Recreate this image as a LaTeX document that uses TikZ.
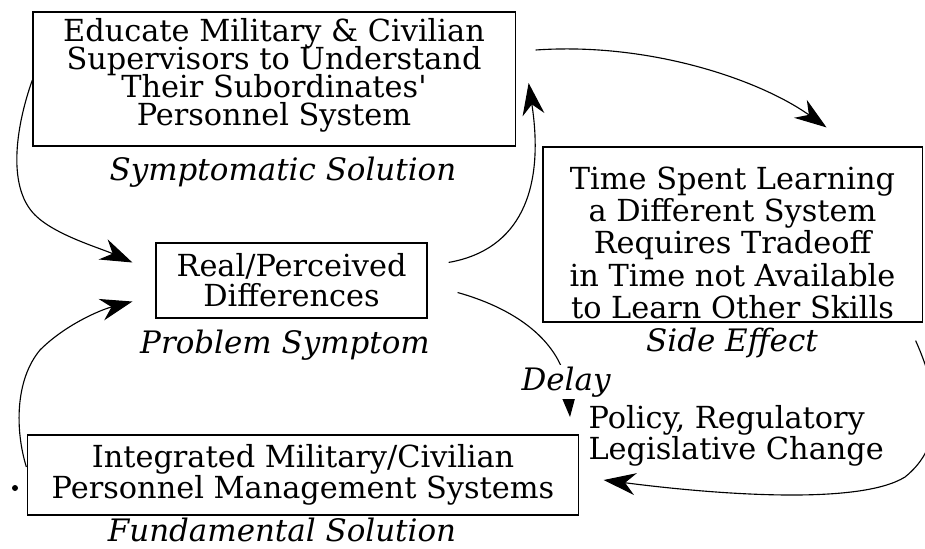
\documentclass[tikz,border=0pt]{standalone}
\usepackage{fontspec}
\setmainfont{DejaVu Serif}
\usetikzlibrary{arrows.meta}
\newcommand{\boxfont}[1]{\fontsize{21.6}{#1}\selectfont\lineskiplimit=-30pt}
\tikzset{
    every node/.style={font=\boxfont{22}},
    main node/.style={shape=rectangle, draw, line width=0.8pt,
    	align=center, inner sep=0pt},
    tag node/.style={font=\fontsize{22}{22}\selectfont\itshape}
}

\begin{document}
\begin{tikzpicture}[x=0.025cm,y=-0.025cm,->,>={Stealth[length=8mm,width=5.5mm,inset=2.6mm]},line width=0.8pt]
    \useasboundingbox (0,0) rectangle (925,548);

    % the four boxes
    \node[main node, minimum width=12.05cm, minimum height=3.35cm,
    	font=\boxfont{20}] (edu) at (274,79)
    	{Educate Military \& Civilian\\ Supervisors to Understand\\ Their Subordinates\textquotesingle\\ Personnel System\rule[-10pt]{0pt}{10pt}};
    \node[main node, minimum width=9.475cm, minimum height=4.375cm,
    	font=\boxfont{22.8}] (side) at (732.5,234.5)
    	{\rule{0pt}{28pt}Time Spent Learning\\ a Different System\\ Requires Tradeoff\\ in Time not Available\\ to Learn Other Skills};
    \node[main node, minimum width=6.775cm, minimum height=1.875cm,
    	font=\boxfont{21.3}] (prob) at (291.5,280.5)
    	{Real/Perceived\\ Differences};
    \node[main node, minimum width=13.75cm, minimum height=2cm,
    	font=\boxfont{22}] (int) at (303,475)
    	{Integrated Military/Civilian\\ Personnel Management Systems};
    \node[anchor=west, align=left, inner sep=0pt,
    	font=\boxfont{22}] (policy) at (588,436)
    	{Policy, Regulatory\\ Legislative Change};

    % labels under the boxes
    \node[tag node] (symlabel) at (283,172) {Symptomatic Solution};
    \node[tag node] (problabel) at (285,345) {Problem Symptom};
    \node[tag node] (sidelabel) at (732,343) {Side Effect};
    \node[tag node] (fundlabel) at (282,530) {Fundamental Solution};

    % loops
    \draw ([shift={(20,-29)}]edu.east) .. controls (650,42) and (760,80) .. ([shift={(94,-19)}]side.north);
    \draw ([shift={(-7,18)}]side.south east) .. controls (940,395) and (945,445) .. (905,477)
    	.. controls (860,505) and (720,495) .. ([shift={(25,5)}]int.east);
    \draw ([shift={(30,12)}]prob.east) .. controls (520,310) and (565,345) .. ([shift={(-18,-19)}]policy.west);
    \draw ([shift={(21,20)}]prob.north east) .. controls (520,250) and (545,190) .. ([shift={(13,4)}]edu.east);
    \draw ([shift={(0,1)}]edu.west) .. controls (18,120) and (5,185) .. (35,215)
    	.. controls (55,235) and (100,248) .. ([shift={(-23,-18)}]prob.west);
    \draw ([shift={(-1,-8)}]int.west) .. controls (15,430) and (15,380) .. (40,350)
    	.. controls (65,325) and (100,310) .. ([shift={(-23,21)}]prob.west);

    \node[tag node, fill=white, inner sep=1pt] (delay) at (566,382) {Delay};
    \fill[-] (15,488) circle (3);
\end{tikzpicture}
\end{document}
